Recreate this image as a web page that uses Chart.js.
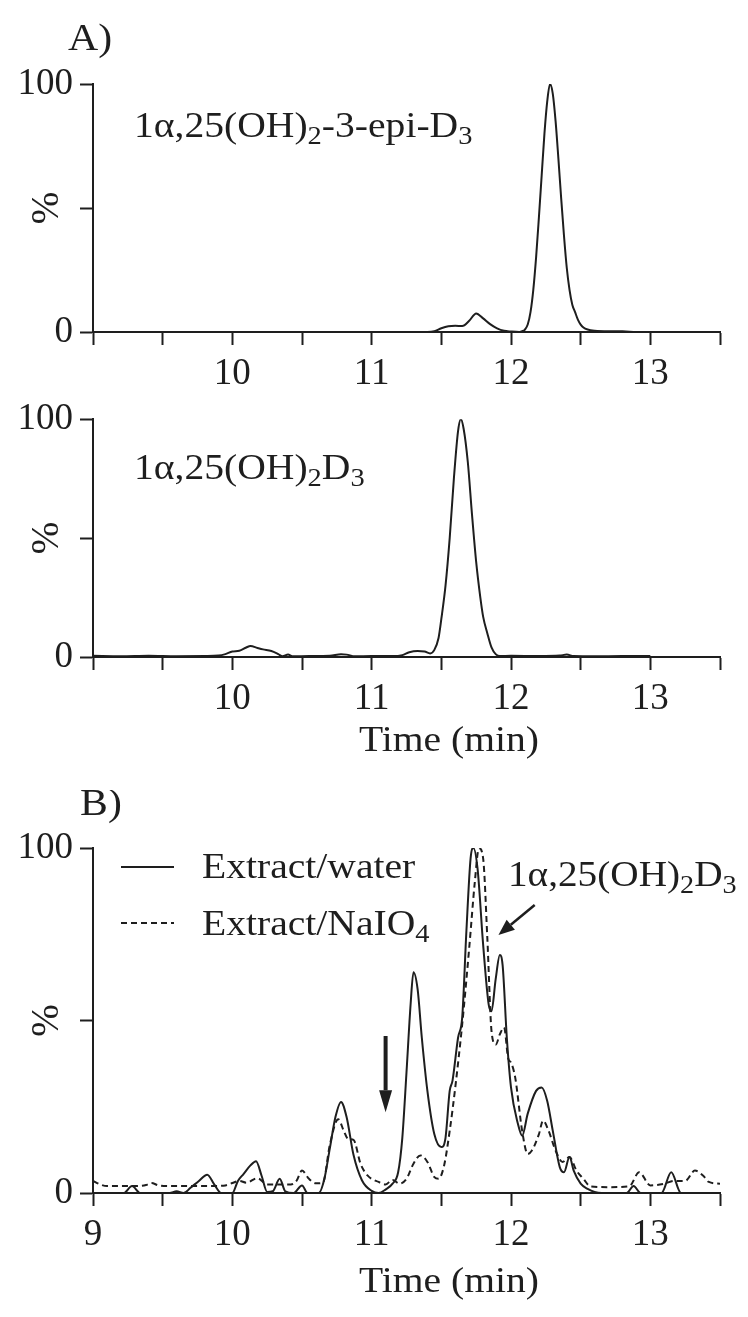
<!DOCTYPE html>
<html>
<head>
<meta charset="utf-8">
<script src="https://cdn.jsdelivr.net/npm/chart.js@4.4.1/dist/chart.umd.min.js"></script>
<style>
  html, body { margin: 0; padding: 0; background: #fff; }
  #wrap { position: relative; width: 748px; height: 1317px; overflow: hidden; }
  canvas { position: absolute; left: 0; }
</style>
</head>
<body>
<div id="wrap">
  <canvas id="c1" width="748" height="390" style="top:0px"></canvas>
  <canvas id="c2" width="748" height="400" style="top:390px"></canvas>
  <canvas id="c3" width="748" height="527" style="top:790px"></canvas>
</div>
<script>
// ---------------- DATA ----------------
const xTickLabelsA = [10, 11, 12, 13];
const xTickLabelsB = [9, 10, 11, 12, 13];
const yTickLabels = [0, 100];

// Panel A (top): 1α,25(OH)2-3-epi-D3
const epiTime = [9.00, 11.40, 11.45, 11.50, 11.55, 11.60, 11.65, 11.70, 11.75, 11.80,
  11.85, 11.90, 11.95, 12.00, 12.06, 12.08, 12.10, 12.12, 12.14, 12.16,
  12.18, 12.20, 12.22, 12.24, 12.26, 12.28, 12.30, 12.32, 12.34, 12.36,
  12.38, 12.40, 12.42, 12.44, 12.46, 12.48, 12.50, 12.52, 12.55, 12.60,
  12.70, 12.80, 12.90, 13.00];
const epiValue = [0, 0, 0.3, 1.5, 2.3, 2.5, 2.4, 4.5, 7.5, 5.5,
  3.2, 1.5, 0.5, 0.2, 0, 0.3, 1, 3, 8, 17,
  30, 46, 63, 80, 93, 100, 96, 85, 70, 54,
  39, 26, 17, 11, 8, 5, 3, 1.8, 1, 0.5,
  0.3, 0.3, 0, 0];

// Panel A (bottom): 1α,25(OH)2D3
const stdTime = [9.00, 9.20, 9.40, 9.60, 9.80, 9.90, 9.95, 10.00, 10.05, 10.10,
  10.13, 10.18, 10.22, 10.28, 10.33, 10.36, 10.40, 10.43, 10.55, 10.70,
  10.78, 10.82, 10.88, 11.00, 11.15, 11.22, 11.27, 11.33, 11.38, 11.42,
  11.45, 11.48, 11.50, 11.53, 11.56, 11.59, 11.62, 11.64, 11.66, 11.69,
  11.72, 11.75, 11.78, 11.80, 11.83, 11.86, 11.89, 11.92, 12.00, 12.20,
  12.35, 12.40, 12.45, 12.60, 12.80, 13.00];
const stdValue = [0.5, 0.3, 0.5, 0.3, 0.4, 0.6, 1.2, 2.3, 2.6, 4.0,
  4.6, 3.8, 3.2, 2.5, 1.2, 0.3, 1.0, 0.3, 0.4, 0.5,
  1.2, 1.0, 0.3, 0.4, 0.4, 0.8, 2.0, 2.5, 2.3, 1.5,
  3, 8, 16, 30, 50, 75, 95, 100, 96, 82,
  60, 40, 25, 17, 10, 4, 1.2, 0.4, 0.5, 0.4,
  0.6, 1.0, 0.4, 0.3, 0.4, 0.4];

// Panel B: Extract/water (solid)
const waterTime = [9.00, 9.22, 9.28, 9.34, 9.55, 9.60, 9.65, 9.70, 9.76, 9.82,
  9.87, 9.92, 10.00, 10.04, 10.08, 10.13, 10.17, 10.21, 10.25, 10.29,
  10.34, 10.38, 10.44, 10.50, 10.54, 10.62, 10.66, 10.70, 10.74, 10.78,
  10.82, 10.87, 10.93, 11.00, 11.05, 11.10, 11.15, 11.19, 11.22, 11.25,
  11.28, 11.30, 11.33, 11.36, 11.40, 11.45, 11.50, 11.53, 11.56, 11.58,
  11.62, 11.65, 11.68, 11.71, 11.73, 11.76, 11.80, 11.84, 11.86, 11.89,
  11.92, 11.94, 11.97, 12.00, 12.05, 12.08, 12.12, 12.18, 12.22, 12.26,
  12.30, 12.35, 12.38, 12.42, 12.45, 12.50, 12.55, 12.60, 12.65, 12.83,
  12.88, 12.93, 13.08, 13.15, 13.22, 13.50];
const waterValue = [0, 0, 2.0, 0, 0, 0.5, 0, 1.5, 3.5, 5.3,
  2.5, 0, 0, 3.5, 5.5, 8.0, 9.2, 5.0, 0.3, 0.5,
  4.1, 0.5, 0, 2.2, 0, 0, 4, 13, 22, 26.4,
  22, 11, 3.7, 0.6, 0, 1, 2.7, 6, 16, 35,
  55, 64, 59, 45, 29.6, 17, 13.3, 16, 29.6, 32.5,
  45, 51, 76, 97, 100, 94, 72, 54.6, 52.7, 62,
  69, 66, 45, 30.6, 20, 16.6, 23, 29.6, 30.6, 26.7,
  18, 7.5, 6, 10.4, 6.5, 2.7, 1.2, 0.3, 0, 0,
  2, 0, 0, 6, 0, 0];

// Panel B: Extract/NaIO4 (dashed)
const naioTime = [9.00, 9.05, 9.10, 9.20, 9.30, 9.38, 9.42, 9.47, 9.55, 9.65,
  9.75, 9.85, 9.95, 10.00, 10.05, 10.10, 10.18, 10.25, 10.30, 10.35,
  10.42, 10.46, 10.50, 10.55, 10.60, 10.65, 10.70, 10.76, 10.80, 10.83,
  10.87, 10.92, 10.97, 11.05, 11.10, 11.15, 11.20, 11.25, 11.30, 11.35,
  11.40, 11.45, 11.48, 11.52, 11.56, 11.60, 11.65, 11.70, 11.74, 11.77,
  11.80, 11.83, 11.86, 11.89, 11.92, 11.95, 11.98, 12.00, 12.03, 12.08,
  12.12, 12.15, 12.20, 12.23, 12.27, 12.32, 12.37, 12.42, 12.47, 12.52,
  12.57, 12.70, 12.85, 12.92, 13.00, 13.10, 13.17, 13.25, 13.32, 13.38,
  13.42, 13.50];
const naioValue = [3.5, 2.5, 2.0, 2.0, 2.0, 2.3, 2.9, 2.2, 2.0, 2.0,
  2.0, 2.0, 2.2, 2.9, 3.5, 3.0, 4.3, 2.5, 2.5, 2.5,
  2.5, 3.5, 6.5, 4.1, 2.8, 3.0, 14, 21.4, 18, 15.7,
  15.4, 8.5, 5.1, 3.2, 2.5, 3.8, 2.7, 4.1, 8.5, 10.9,
  9, 4.6, 4.1, 8, 18, 30.6, 49, 71, 90, 100,
  97, 74, 47, 43, 46, 48, 39, 37.8, 33.5, 18,
  11.3, 12.3, 17, 21, 18, 12.3, 9, 10.4, 6.5, 4.1,
  1.9, 1.7, 2, 6, 2.2, 2.7, 3.5, 3.5, 6.5, 5,
  3.2, 2.7];

// ---------------- RENDERING ----------------
const FONT = '"Liberation Serif", "Times New Roman", Times, serif';
const INK = '#1e1e1e';
const FS = 37;      // tick label size
const TS = 36;      // annotation text size
const SX = 1.1;     // horizontal stretch of annotation text

function pts(t, v) { return t.map((x, i) => ({ x: x, y: v[i] })); }

function drawRich(ctx, x, y, parts, size, sx) {
  ctx.save();
  ctx.translate(x, y);
  ctx.scale(sx || SX, 1);
  let cx = 0;
  ctx.textBaseline = 'alphabetic';
  ctx.textAlign = 'left';
  for (const [txt, sub] of parts) {
    const s = sub ? size * 0.72 : size;
    ctx.font = s + 'px ' + FONT;
    ctx.fillText(txt, cx, sub ? size * 0.2 : 0);
    cx += ctx.measureText(txt).width;
  }
  ctx.restore();
}

function drawCentered(ctx, txt, x, y, size, sx) {
  ctx.save();
  ctx.font = size + 'px ' + FONT;
  const w = ctx.measureText(txt).width * (sx || SX);
  ctx.restore();
  drawRich(ctx, x - w / 2, y, [[txt, false]], size, sx);
}

function arrow(ctx, x1, y1, x2, y2, shaftW, headL, headW) {
  const a = Math.atan2(y2 - y1, x2 - x1);
  const bx = x2 - Math.cos(a) * headL, by = y2 - Math.sin(a) * headL;
  ctx.save();
  ctx.strokeStyle = INK; ctx.fillStyle = INK; ctx.lineWidth = shaftW;
  ctx.beginPath(); ctx.moveTo(x1, y1); ctx.lineTo(bx, by); ctx.stroke();
  ctx.beginPath();
  ctx.moveTo(x2, y2);
  ctx.lineTo(bx + Math.sin(a) * headW / 2, by - Math.cos(a) * headW / 2);
  ctx.lineTo(bx - Math.sin(a) * headW / 2, by + Math.cos(a) * headW / 2);
  ctx.closePath(); ctx.fill();
  ctx.restore();
}

function makeChart(id, canvasH, areaTop, areaBottom, datasets, xLabels, extraDraw) {
  const ctx = document.getElementById(id);
  return new Chart(ctx, {
    type: 'line',
    data: { datasets: datasets },
    options: {
      responsive: false,
      animation: false,
      maintainAspectRatio: false,
      layout: { padding: { top: areaTop, right: 28, left: 0, bottom: 0 } },
      plugins: { legend: { display: false }, tooltip: { enabled: false } },
      elements: { point: { radius: 0 }, line: { cubicInterpolationMode: 'monotone' } },
      scales: {
        x: {
          type: 'linear', min: 9, max: 13.5,
          afterFit: (s) => { s.height = canvasH - areaBottom; },
          ticks: {
            stepSize: 0.5, autoSkip: false, maxRotation: 0, minRotation: 0,
            color: INK, font: { family: FONT, size: FS }, padding: 7,
            callback: (v) => xLabels.includes(v) ? String(v) : ''
          },
          grid: { drawOnChartArea: false, drawTicks: true, tickLength: 13, tickWidth: 2, color: INK },
          border: { display: true, color: INK, width: 2 }
        },
        y: {
          min: 0, max: 100,
          afterFit: (s) => { s.width = 93; },
          ticks: {
            stepSize: 50, color: INK, font: { family: FONT, size: FS }, padding: 7,
            callback: (v) => yTickLabels.includes(v) ? String(v) : ''
          },
          grid: { drawOnChartArea: false, drawTicks: true, tickLength: 13, tickWidth: 2, color: INK },
          border: { display: true, color: INK, width: 2 }
        }
      }
    },
    plugins: [{
      id: 'ann_' + id,
      afterDraw: (chart) => {
        const c = chart.ctx;
        c.save();
        c.fillStyle = INK;
        const ya = chart.scales.y;
        c.save();
        c.translate(48, ya.getPixelForValue(50));
        c.rotate(-Math.PI / 2);
        c.font = '39px ' + FONT;
        c.textAlign = 'center';
        c.textBaseline = 'middle';
        c.fillText('%', 0, 0);
        c.restore();
        extraDraw(chart, c);
        c.restore();
      }
    }]
  });
}

const lineStyle = { borderColor: INK, borderWidth: 2, pointRadius: 0, fill: false };

// Chart 1: A top
makeChart('c1', 390, 84, 332,
  [Object.assign({ data: pts(epiTime, epiValue) }, lineStyle)],
  xTickLabelsA,
  (chart, c) => {
    drawRich(c, 68, 50, [['A)', false]], 38, 1.1);
    drawRich(c, 134, 137, [['1α,25(OH)', false], ['2', true], ['-3-epi-D', false], ['3', true]], TS);
  });

// Chart 2: A bottom
makeChart('c2', 400, 23, 267,
  [Object.assign({ data: pts(stdTime, stdValue) }, lineStyle)],
  xTickLabelsA,
  (chart, c) => {
    drawRich(c, 134, 89, [['1α,25(OH)', false], ['2', true], ['D', false], ['3', true]], TS);
    drawCentered(c, 'Time (min)', 449, 361, TS);
  });

// Chart 3: B
makeChart('c3', 527, 58, 403,
  [Object.assign({ data: pts(waterTime, waterValue) }, lineStyle),
   Object.assign({ data: pts(naioTime, naioValue), borderDash: [6, 4] }, lineStyle)],
  xTickLabelsB,
  (chart, c) => {
    const xs = chart.scales.x, ys = chart.scales.y;
    drawRich(c, 80, 25, [['B)', false]], 38, 1.1);
    // legend
    c.strokeStyle = INK; c.lineWidth = 2;
    c.beginPath(); c.moveTo(121, 77); c.lineTo(174, 77); c.stroke();
    c.setLineDash([6, 4]);
    c.beginPath(); c.moveTo(121, 133); c.lineTo(174, 133); c.stroke();
    c.setLineDash([]);
    drawRich(c, 202, 88, [['Extract/water', false]], TS);
    drawRich(c, 202, 145, [['Extract/NaIO', false], ['4', true]], TS);
    // annotation
    drawRich(c, 508, 96, [['1α,25(OH)', false], ['2', true], ['D', false], ['3', true]], TS, 1.09);
    arrow(c, xs.getPixelForValue(12.17), ys.getPixelForValue(83.5),
             xs.getPixelForValue(11.91), ys.getPixelForValue(74.8), 2.5, 16, 13);
    arrow(c, xs.getPixelForValue(11.10), ys.getPixelForValue(45.5),
             xs.getPixelForValue(11.10), ys.getPixelForValue(23.4), 4, 22, 13);
    drawCentered(c, 'Time (min)', 449, 502, TS);
  });
</script>
</body>
</html>
